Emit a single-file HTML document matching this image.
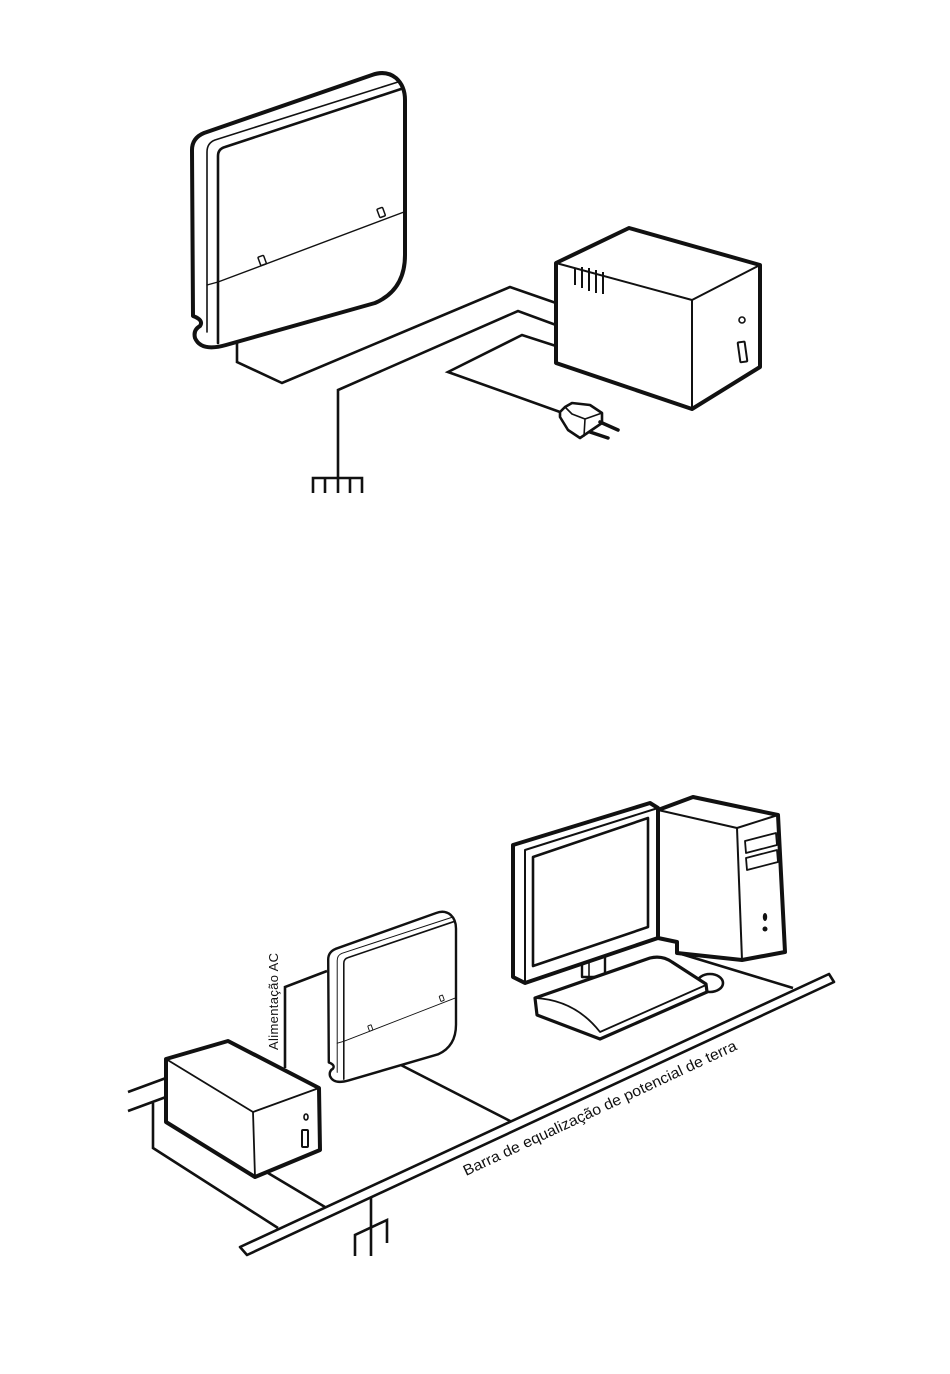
<!DOCTYPE html>
<html><head><meta charset="utf-8"><style>
html,body{margin:0;padding:0;background:#fff;}
svg{display:block;}
text{font-family:"Liberation Sans",sans-serif;fill:#111;}
</style></head><body>
<svg width="950" height="1374" viewBox="0 0 950 1374" xmlns="http://www.w3.org/2000/svg">
<defs>
<g id="panel" fill="#fff" stroke="#111" stroke-linejoin="round" stroke-linecap="round">
  <path d="M192,150 Q192,138 204,133 L372,75 Q386,70 396,78 Q405,86 405,100 L405,255 Q405,290 375,303 L226,345 Q201,352 195,338 Q193,330 200,326 Q204,320 193,316 Z" stroke-width="4"/>
  <path d="M207,332 L207,152 Q207,143 215,140 L398,82" fill="none" stroke-width="1.6"/>
  <path d="M218,343 L218,156 Q218,149 225,147 L401,89" fill="none" stroke-width="2.6"/>
  <path d="M207,285 L218,282 L404,212" fill="none" stroke-width="1.4"/>
  <rect x="259" y="256" width="6" height="9" rx="1" fill="#fff" stroke-width="1.5" transform="rotate(-20 262 260)"/>
  <rect x="378" y="208" width="6" height="9" rx="1" fill="#fff" stroke-width="1.5" transform="rotate(-20 381 212)"/>
</g>
</defs>

<!-- ===== TOP DIAGRAM ===== -->
<g fill="none" stroke="#111" stroke-width="2.6" stroke-linejoin="miter">
  <polyline points="237,338 237,362 282,383 510,287 556,303"/>
  <polyline points="556,325 518,311 338,390 338,478"/>
  <polyline points="313,493 313,478 362,478 362,493"/>
  <line x1="325" y1="478" x2="325" y2="493"/>
  <line x1="338" y1="478" x2="338" y2="493"/>
  <line x1="350" y1="478" x2="350" y2="493"/>
  <polyline points="556,346 522,335 448,372 560,412"/>
</g>
<use href="#panel"/>
<g stroke="#111" stroke-linejoin="round" stroke-linecap="round">
  <path d="M560,412 L565,407 L572,403 L590,405 L602,413 L602,423 L580,438 L568,430 L560,417 Z" fill="#fff" stroke-width="2.6"/>
  <path d="M565,407 L572,414 L585,419 L602,413 M585,419 L584,436" fill="none" stroke-width="1.6"/>
  <line x1="600" y1="422" x2="618" y2="430" stroke-width="3.5"/>
  <line x1="590" y1="432" x2="608" y2="438" stroke-width="3.5"/>
</g>
<g fill="#fff" stroke="#111" stroke-linejoin="round">
  <polygon points="556,263 629,228 760,265 760,367 692,409 556,363" stroke-width="4"/>
  <polyline points="556,263 692,300 760,265" fill="none" stroke-width="2"/>
  <line x1="692" y1="300" x2="692" y2="409" stroke-width="2"/>
  <g stroke-width="2" fill="none">
    <line x1="575" y1="268" x2="575" y2="285"/>
    <line x1="582" y1="267" x2="582" y2="288"/>
    <line x1="589" y1="268" x2="589" y2="291"/>
    <line x1="596" y1="270" x2="596" y2="293"/>
    <line x1="603" y1="272" x2="603" y2="294"/>
  </g>
  <circle cx="742" cy="320" r="3" fill="none" stroke-width="1.6"/>
  <rect x="739" y="342" width="7" height="20" rx="1" fill="none" stroke-width="2" transform="rotate(-8 742 352)"/>
</g>

<!-- ===== BOTTOM DIAGRAM ===== -->
<g fill="none" stroke="#111" stroke-width="2.6">
  <polyline points="285,1068 285,987 327,971"/>
  <line x1="395" y1="1062" x2="512" y2="1122"/>
  <polyline points="678,942 678,953 793,988"/>
  <line x1="128" y1="1092" x2="166" y2="1078"/>
  <line x1="128" y1="1111" x2="166" y2="1097"/>
  <polyline points="153,1103 153,1148 278,1228"/>
  <line x1="268" y1="1173" x2="325" y2="1207"/>
  <line x1="371" y1="1198" x2="371" y2="1256"/>
  <polyline points="355,1256 355,1235 387,1220 387,1243"/>
</g>
<polygon points="240,1247 829,974 834,982 247,1255" fill="#fff" stroke="#111" stroke-width="2.6" stroke-linejoin="round"/>

<use href="#panel" transform="translate(213,866.5) scale(0.6,0.62)"/>

<g fill="#fff" stroke="#111" stroke-linejoin="round">
  <polygon points="166,1059 228,1041 319,1088 320,1150 255,1177 166,1122" stroke-width="4"/>
  <polyline points="166,1059 253,1112 319,1088" fill="none" stroke-width="1.8"/>
  <line x1="253" y1="1112" x2="255" y2="1177" stroke-width="1.8"/>
  <ellipse cx="306" cy="1117" rx="2" ry="3" fill="none" stroke-width="1.6"/>
  <rect x="302" y="1130" width="6" height="17" rx="1" fill="none" stroke-width="2"/>
</g>

<g fill="#fff" stroke="#111" stroke-linejoin="round">
  <polygon points="658,810 693,797 778,815 785,952 742,960 677,953 677,942 658,938" stroke-width="4"/>
  <polyline points="658,810 737,828 778,815" fill="none" stroke-width="2"/>
  <line x1="737" y1="828" x2="742" y2="960" stroke-width="2"/>
  <polygon points="745,841 776,833 777,845 746,853" fill="none" stroke-width="1.8"/>
  <polygon points="746,858 777,850 778,862 747,870" fill="none" stroke-width="1.8"/>
  <ellipse cx="765" cy="917" rx="2.2" ry="4" fill="#111" stroke="none"/>
  <circle cx="765" cy="929" r="2.5" fill="#111" stroke="none"/>
</g>
<g fill="#fff" stroke="#111" stroke-linejoin="round">
  <rect x="582" y="955" width="23" height="22" stroke-width="2.4"/>
  <line x1="589" y1="955" x2="589" y2="977" stroke-width="1.6"/>
  <polygon points="513,845 650,803 658,808 658,938 525,983 513,977" stroke-width="4"/>
  <polyline points="658,808 525,850 525,983" fill="none" stroke-width="2"/>
  <polygon points="533,857 648,818 648,927 533,966" fill="none" stroke-width="2.6"/>
</g>
<g fill="#fff" stroke="#111" stroke-linejoin="round">
  <ellipse cx="710" cy="983" rx="13" ry="9" stroke-width="2.6"/>
  <path d="M535,998 L650,958 Q662,955 672,962 L706,984 L707,992 L600,1039 L537,1015 Z" stroke-width="3.2"/>
  <path d="M535,998 Q575,1000 600,1032 L706,985" fill="none" stroke-width="1.8"/>
</g>

<text x="0" y="0" font-size="13" transform="translate(278,1050) rotate(-90)" textLength="97" lengthAdjust="spacing">Alimentação AC</text>
<text x="0" y="0" font-size="15" transform="translate(466,1176) rotate(-25)" textLength="300" lengthAdjust="spacingAndGlyphs">Barra de equalização de potencial de terra</text>
</svg>
</body></html>
